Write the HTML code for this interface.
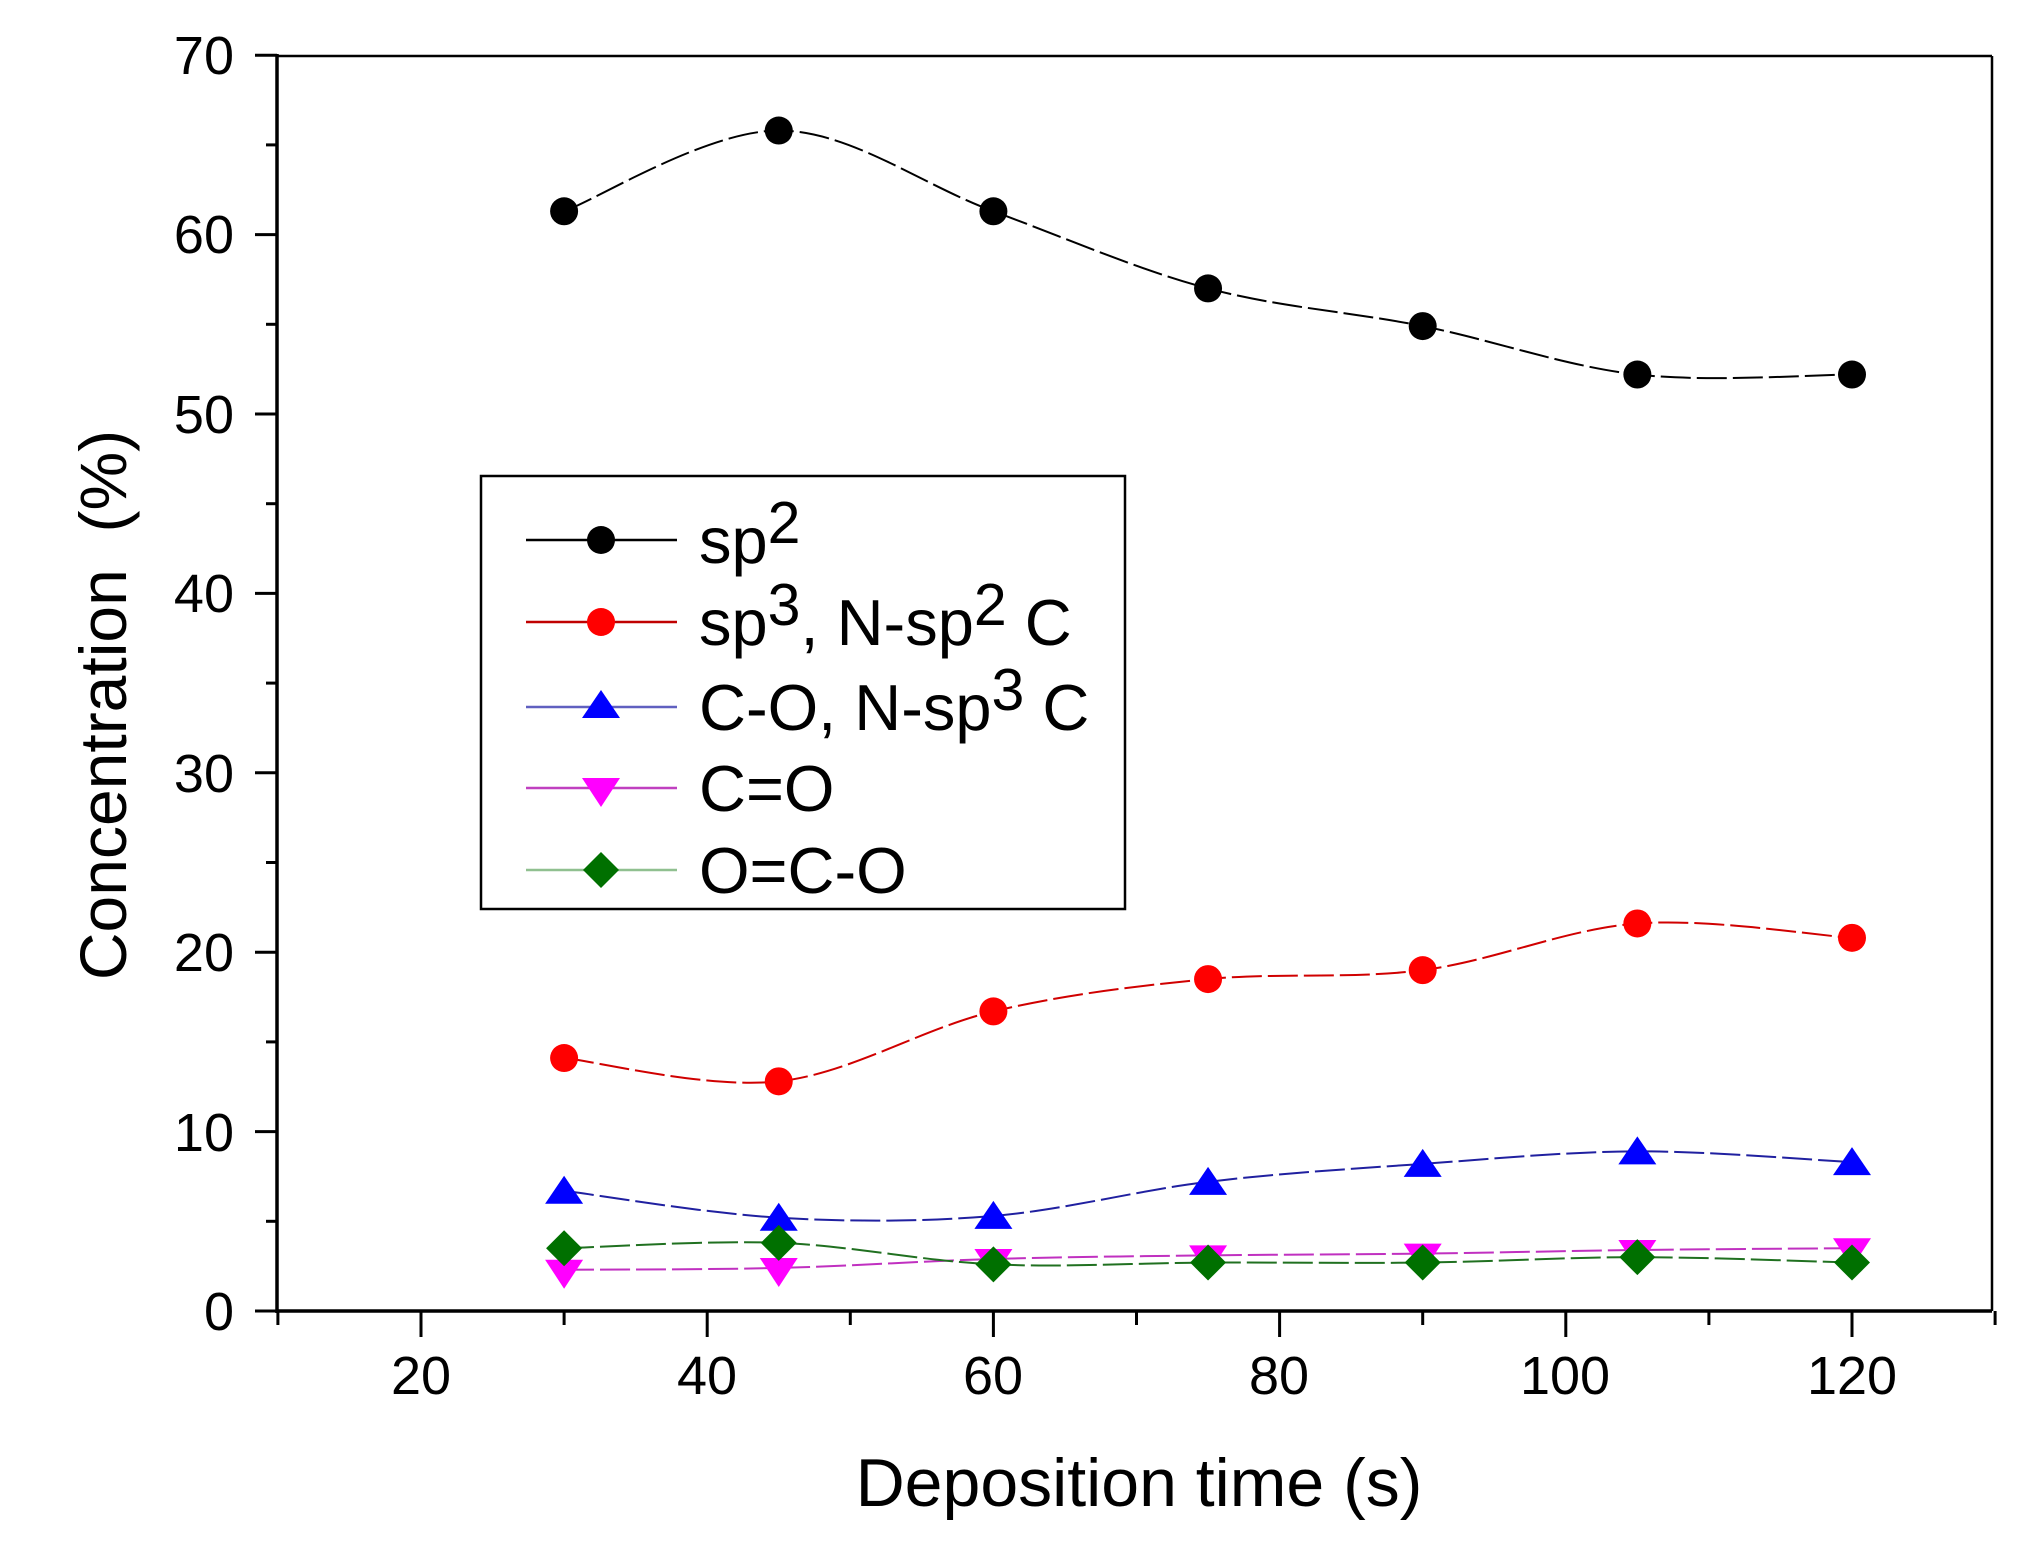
<!DOCTYPE html>
<html><head><meta charset="utf-8"><style>
html,body{margin:0;padding:0;background:#fff;}
svg{display:block;}
text{font-family:"Liberation Sans",Arial,sans-serif;fill:#000;white-space:pre;}
</style></head><body>
<svg id="s" width="2026" height="1546" viewBox="0 0 2026 1546" xmlns="http://www.w3.org/2000/svg">
<rect x="0" y="0" width="2026" height="1546" fill="#fff"/>
<g id="plot"></g>
<line x1="277" y1="56" x2="1992" y2="56" stroke="#000" stroke-width="2.5"/>
<line x1="1992" y1="56" x2="1992" y2="1311" stroke="#000" stroke-width="2.5"/>
<line x1="277" y1="54" x2="277" y2="1313" stroke="#000" stroke-width="3.5"/>
<line x1="277" y1="1311" x2="1992" y2="1311" stroke="#000" stroke-width="3.5"/>
<g id="ticks" stroke="#000" stroke-width="3"></g>
<g font-size="54" text-anchor="end">
<text x="234" y="1330">0</text>
<text x="234" y="1151">10</text>
<text x="234" y="971">20</text>
<text x="234" y="792">30</text>
<text x="234" y="612">40</text>
<text x="234" y="433">50</text>
<text x="234" y="253">60</text>
<text x="234" y="74">70</text>
</g>
<g font-size="54" text-anchor="middle">
<text x="421" y="1394">20</text>
<text x="707" y="1394">40</text>
<text x="993" y="1394">60</text>
<text x="1279" y="1394">80</text>
<text x="1565" y="1394">100</text>
<text x="1852" y="1394">120</text>
</g>
<text x="1139" y="1506" font-size="68" text-anchor="middle">Deposition time (s)</text>
<text transform="translate(126,705) rotate(-90)" font-size="66" text-anchor="middle" xml:space="preserve">Concentration  (%)</text>
<rect x="481" y="476" width="644" height="433" fill="#fff" stroke="#000" stroke-width="2.5"/>
<g stroke-width="2.5">
<line x1="526" y1="540" x2="677" y2="540" stroke="#000"/>
<line x1="526" y1="622" x2="677" y2="622" stroke="#c00000"/>
<line x1="526" y1="707" x2="677" y2="707" stroke="#6060c0"/>
<line x1="526" y1="788" x2="677" y2="788" stroke="#c040c0"/>
<line x1="526" y1="870" x2="677" y2="870" stroke="#90c090"/>
</g>
<circle cx="601" cy="540" r="14" fill="#000"/>
<circle cx="601" cy="622" r="14" fill="#f00"/>
<polygon points="601,690 620,718 582,718" fill="#00f"/>
<polygon points="582,778 620,778 601,807" fill="#f0f"/>
<polygon points="601,852 619,870 601,888 583,870" fill="#007000"/>
<g font-size="65">
<text x="699" y="563">sp<tspan dy="-20" font-size="59">2</tspan></text>
<text x="699" y="645">sp<tspan dy="-20" font-size="59">3</tspan><tspan dy="20">, N-sp</tspan><tspan dy="-20" font-size="59">2</tspan><tspan dy="20"> C</tspan></text>
<text x="699" y="730">C-O, N-sp<tspan dy="-20" font-size="59">3</tspan><tspan dy="20"> C</tspan></text>
<text x="699" y="811">C=O</text>
<text x="699" y="893">O=C-O</text>
</g>
</svg>
<script>
(function(){
var NS="http://www.w3.org/2000/svg";
function X(x){return 421+(x-20)*14.31;}
function Y(v){return 1311-v*17.94;}
var xs=[30,45,60,75,90,105,120];
var series=[
 {d:[61.3,65.8,61.3,57.0,54.9,52.2,52.2],c:"#000",m:"c",f:"#000"},
 {d:[14.1,12.8,16.7,18.5,19.0,21.6,20.8],c:"#d00000",m:"c",f:"#f00"},
 {d:[6.7,5.2,5.3,7.2,8.2,8.9,8.3],c:"#2020a0",m:"u",f:"#00f"},
 {d:[2.3,2.4,2.9,3.1,3.2,3.4,3.5],c:"#c030c0",m:"d",f:"#f0f"},
 {d:[3.5,3.8,2.6,2.7,2.7,3.0,2.7],c:"#207020",m:"r",f:"#007000"}
];
var g=document.getElementById("plot");
function el(n,a){var e=document.createElementNS(NS,n);for(var k in a)e.setAttribute(k,a[k]);g.appendChild(e);return e;}
series.forEach(function(s){
 var p=xs.map(function(x,i){return [X(x),Y(s.d[i])];});
 var d="M"+p[0][0]+","+p[0][1];
 for(var i=0;i<p.length-1;i++){
  var p0=p[i-1]||p[i],p1=p[i],p2=p[i+1],p3=p[i+2]||p[i+1];
  var c1=[p1[0]+(p2[0]-p0[0])/6,p1[1]+(p2[1]-p0[1])/6];
  var c2=[p2[0]-(p3[0]-p1[0])/6,p2[1]-(p3[1]-p1[1])/6];
  d+=" C"+c1+" "+c2+" "+p2;
 }
 el("path",{d:d,fill:"none",stroke:s.c,"stroke-width":2,"stroke-dasharray":"30,6"});
});
series.forEach(function(s){
 xs.forEach(function(x,i){
  var cx=X(x),cy=Y(s.d[i]);
  if(s.m=="c")el("circle",{cx:cx,cy:cy,r:14,fill:s.f});
  else if(s.m=="u")el("polygon",{points:[cx,cy-15,cx+19,cy+13,cx-19,cy+13].join(","),fill:s.f});
  else if(s.m=="d")el("polygon",{points:[cx-19,cy-10,cx+19,cy-10,cx,cy+19].join(","),fill:s.f});
  else el("polygon",{points:[cx,cy-18,cx+18,cy,cx,cy+18,cx-18,cy].join(","),fill:s.f});
 });
});
var t=document.getElementById("ticks");
function ln(a){var e=document.createElementNS(NS,"line");for(var k in a)e.setAttribute(k,a[k]);t.appendChild(e);}
for(var v=0;v<=70;v+=5){var y=Y(v);ln({x1:277,x2:v%10==0?255:266,y1:y,y2:y});}
for(var x=10;x<=130;x+=10){var xx=X(x);ln({x1:xx,x2:xx,y1:1311,y2:x%20==0?1337:1325});}
})();
</script>
</body></html>
